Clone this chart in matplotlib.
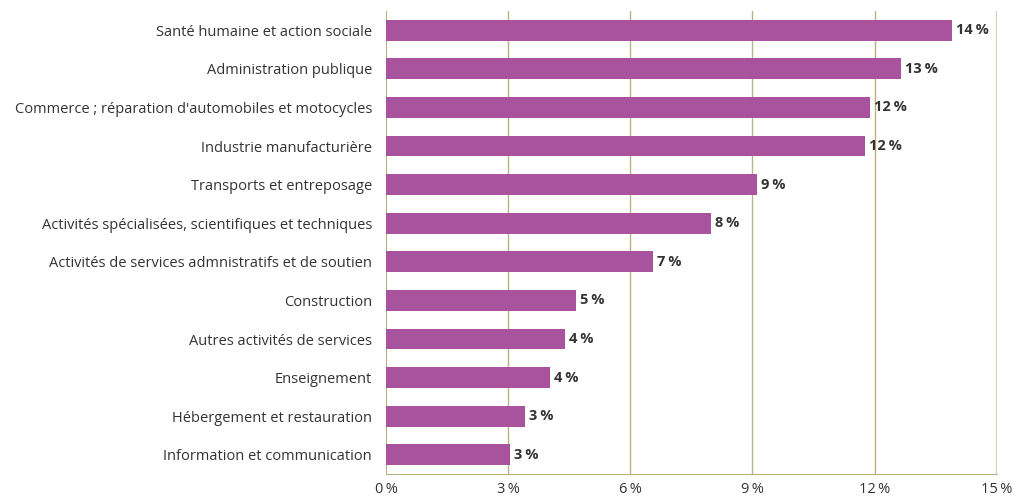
import numpy as np
import matplotlib.pyplot as plt

# Data
categories = [
    "Santé humaine et action sociale",
    "Administration publique",
    "Commerce ; réparation d'automobiles et motocycles",
    "Industrie manufacturière",
    "Transports et entreposage",
    "Activités spécialisées, scientifiques et techniques",
    "Activités de services admnistratifs et de soutien",
    "Construction",
    "Autres activités de services",
    "Enseignement",
    "Hébergement et restauration",
    "Information et communication",
]
values = [13.9, 12.64, 11.88, 11.76, 9.1, 7.97, 6.56, 4.67, 4.4, 4.03, 3.41, 3.04]
xticks = [0, 3, 6, 9, 12, 15]

BAR = "#a9539f"
GRID = "#b8b284"
TXT = "#333333"

plt.rcParams["font.family"] = ["Open Sans", "DejaVu Sans"]

fig = plt.figure(figsize=(10.13, 4.97), dpi=100)
ax = fig.add_axes([0.381, 0.046, 0.603, 0.932])

y = np.arange(len(categories))
ax.barh(y, values, height=0.54, color=BAR, zorder=3)
ax.set_ylim(len(categories) - 0.5, -0.5)
ax.set_xlim(0, 15)

ax.set_yticks(y)
ax.set_yticklabels(categories, fontsize=10.5, color=TXT)
ax.set_xticks(xticks)
ax.set_xticklabels(["{}\u2009%".format(t) for t in xticks], fontsize=10.5, color=TXT)
ax.tick_params(axis="y", length=0, pad=10)
ax.tick_params(axis="x", length=0, pad=6)

# Vertical gridlines
for t in xticks[1:-1]:
    ax.axvline(t, color=GRID, lw=1, zorder=1)
ax.axvline(15, color="#d4d0b8", lw=1.5, zorder=1)

for s in ["top", "right"]:
    ax.spines[s].set_visible(False)
ax.spines["left"].set_color(GRID)
ax.spines["bottom"].set_color(GRID)

for yi, v in zip(y, values):
    ax.text(v + 0.1, yi, "{}\u2009%".format(int(round(v))), va="center", ha="left",
            fontsize=10.5, fontweight="bold", color=TXT, zorder=4)

fig.savefig("out.png", dpi=100)
